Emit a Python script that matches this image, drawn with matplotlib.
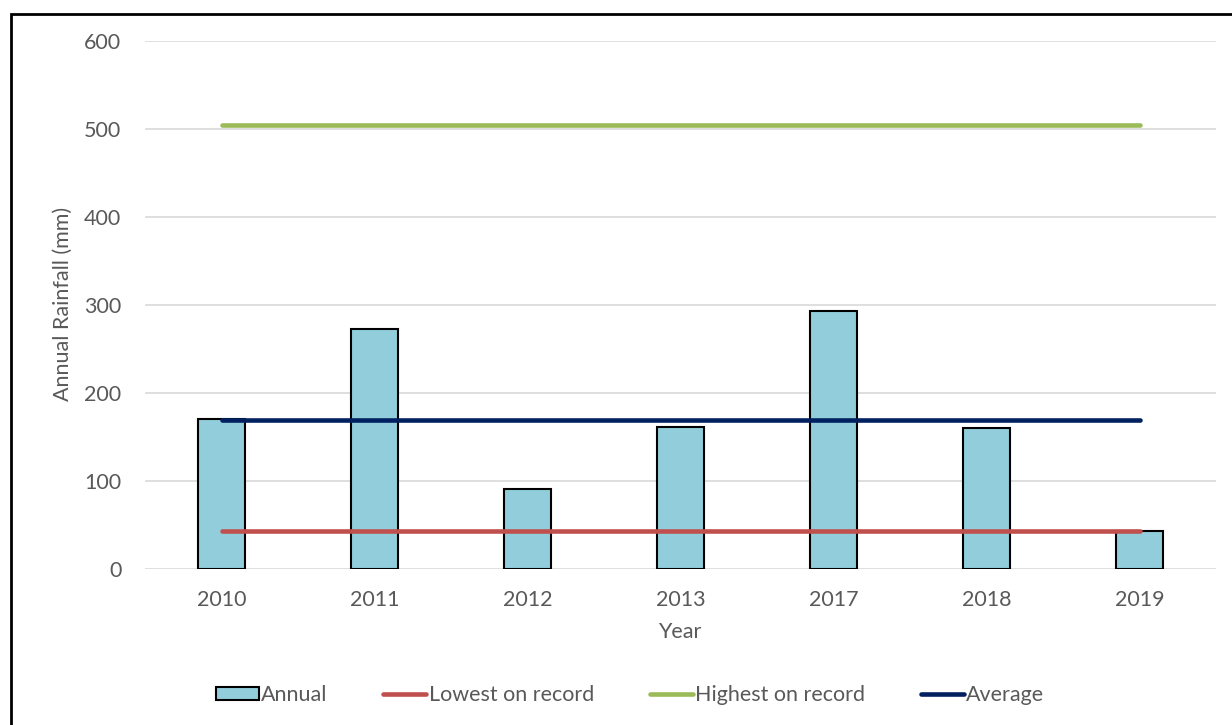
import matplotlib.pyplot as plt
from matplotlib.patches import Rectangle

# Data
years = ['2010', '2011', '2012', '2013', '2017', '2018', '2019']
annual = [170, 272, 91, 161, 293, 160, 43]
lowest = 43
highest = 504
average = 169

plt.rcParams['font.family'] = ['Lato', 'DejaVu Sans']
txt = '#595959'
fs = 15.5

fig = plt.figure(figsize=(12.32, 7.25), dpi=100)
ax = fig.add_axes([145/1232, 1 - 568.7/725, (1216-145)/1232, (568.7-40.7)/725])

x = list(range(len(years)))
bars = ax.bar(x, annual, width=0.31, color='#92CDDC', edgecolor='black', linewidth=1.5,
              label='Annual', zorder=2)
l1, = ax.plot(x, [lowest]*len(x), color='#C0504D', lw=3.3, solid_capstyle='round',
              label='Lowest on record', zorder=3)
l2, = ax.plot(x, [highest]*len(x), color='#9BBB59', lw=3.3, solid_capstyle='round',
              label='Highest on record', zorder=3)
l3, = ax.plot(x, [average]*len(x), color='#002060', lw=3.3, solid_capstyle='round',
              label='Average', zorder=3)

ax.set_xlim(-0.5, len(years) - 0.5)
ax.set_ylim(0, 600)
ax.set_yticks(range(0, 601, 100))
ax.set_xticks(x)
ax.set_xticklabels(years)
ax.grid(axis='y', color='#D9D9D9', lw=1.2, zorder=0)
ax.set_axisbelow(True)
for s in ax.spines.values():
    s.set_visible(False)
ax.tick_params(length=0, labelsize=fs, colors=txt)
ax.tick_params(axis='x', pad=15)
ax.tick_params(axis='y', pad=17)

fig.text(63/1232, 1 - 304/725, 'Annual Rainfall (mm)', rotation=90, ha='center',
         va='center', fontsize=fs, color=txt)
fig.text(680/1232, 1 - 632/725, 'Year', ha='center', va='center', fontsize=fs, color=txt)

leg = fig.legend([bars, l1, l2, l3], ['Annual', 'Lowest on record', 'Highest on record', 'Average'],
                 loc='center', bbox_to_anchor=(630/1232, 1 - 695/725),
                 ncol=4, frameon=False, fontsize=fs, handlelength=2.0, handleheight=0.6,
                 handletextpad=0.1, columnspacing=2.6)
for t in leg.get_texts():
    t.set_color(txt)

# outer chart border
fig.patches.append(Rectangle((11/1232, -0.1), 1.2, 1 - 14/725 + 0.1, transform=fig.transFigure,
                             fill=False, edgecolor='black', lw=2))

fig.savefig('out.png', dpi=100)
